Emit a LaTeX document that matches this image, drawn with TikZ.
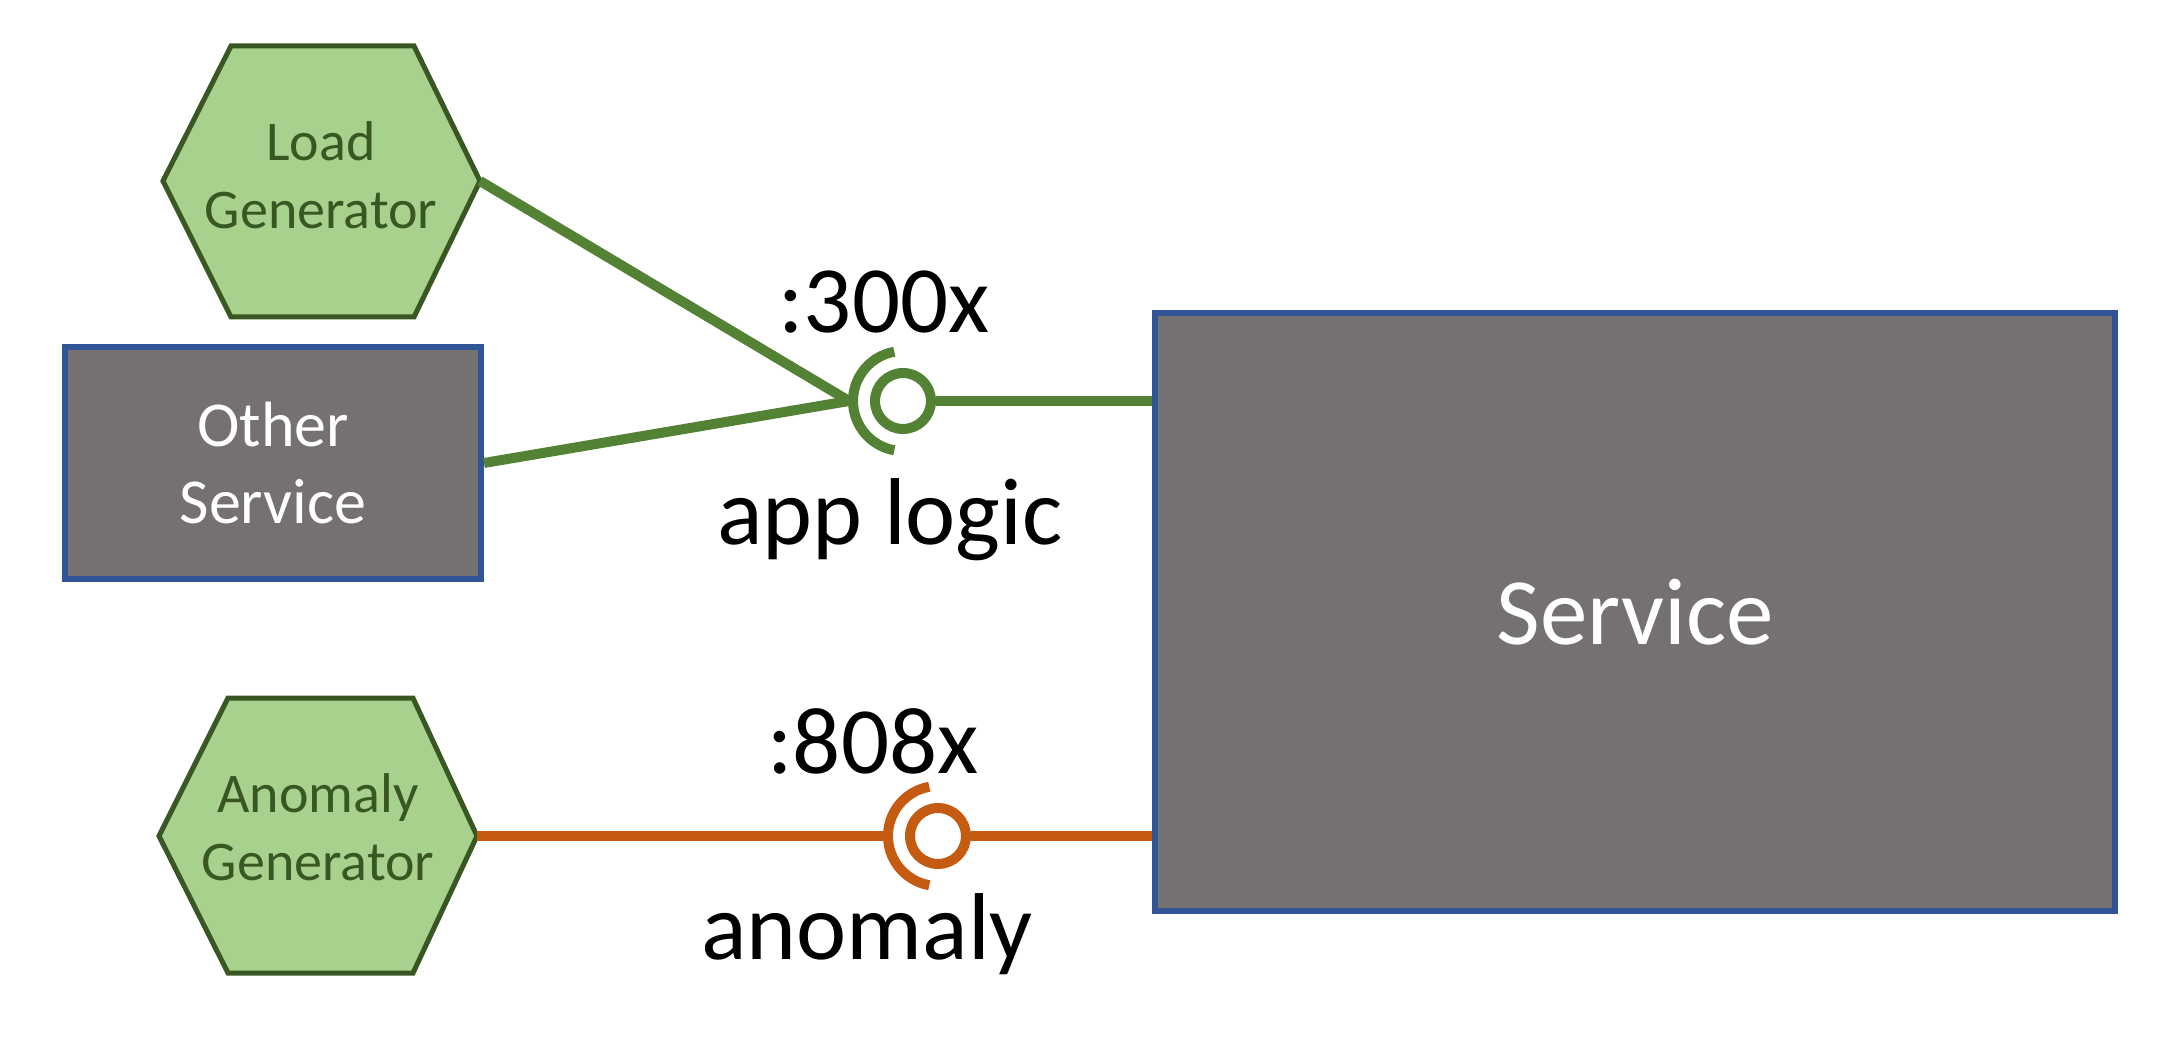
\documentclass[tikz,border=0pt]{standalone}
\usepackage{fontspec}
\setmainfont{Carlito}
\usetikzlibrary{calc}
\definecolor{hexfill}{HTML}{A9D18E}
\definecolor{hexdraw}{HTML}{385723}
\definecolor{linkgreen}{HTML}{548235}
\definecolor{linkorange}{HTML}{C55A11}
\definecolor{svcgray}{HTML}{767171}
\definecolor{svcblue}{HTML}{2F5597}
\begin{document}
\begin{tikzpicture}[x=0.5pt,y=-0.5pt,
  hexshape/.style={draw=hexdraw, fill=hexfill, line width=2.5pt, line join=miter},
  hextext/.style={text=hexdraw, font=\fontsize{28}{34}\selectfont, align=center, inner sep=0pt},
  svcbox/.style={draw=svcblue, fill=svcgray, line width=3pt, text=white, inner sep=0pt},
  link/.style={line width=5pt},
  sockarc/.style={line width=5pt},
  ball/.style={circle, fill=white, line width=5pt, minimum size=28pt, inner sep=0pt},
  lbl/.style={font=\fontsize{47.5}{57}\selectfont, anchor=base, inner sep=0pt}]
\useasboundingbox (0,0) rectangle (2180,1064);

% Load Generator hexagon
\draw[hexshape] (163,181) -- (231,46) -- (414,46) -- (480,181) -- (414,317) -- (231,317) -- cycle;
\coordinate (lgR) at (480,181);
\node[hextext] (lgt) at (321,175) {Load\\Generator};

% Anomaly Generator hexagon
\draw[hexshape] (159,836) -- (228,698) -- (413,698) -- (477,836) -- (413,973) -- (228,973) -- cycle;
\coordinate (agR) at (477,836);
\node[hextext] (agt) at (318,827) {Anomaly\\Generator};

% Other Service
\node[svcbox, minimum width=208pt, minimum height=116pt, font=\fontsize{32}{38.5}\selectfont, align=center] (oth) at (273,463) {Other\\Service};

% Service
\node[svcbox, minimum width=480pt, minimum height=299pt, font=\fontsize{47.5}{57}\selectfont] (svc) at (1635,612) {Service};

% app logic interface
\node[ball, draw=linkgreen] (b1) at (903,401) {};
\draw[sockarc, linkgreen] ($(b1.center)+(100:25pt)$) arc[start angle=100, end angle=260, radius=25pt];
\coordinate (j1) at ($(b1.center)+(180:27pt)$);
\draw[link, linkgreen] (lgR) -- (j1);
\draw[link, linkgreen] (oth.east) -- (j1);
\draw[link, linkgreen] (b1.east) -- (b1.east -| svc.west);
\node[lbl] (l300) at (884,333) {:300x};
\node[lbl] (lapp) at (890,544) {app logic};

% anomaly interface
\node[ball, draw=linkorange] (b2) at (938,836) {};
\draw[sockarc, linkorange] ($(b2.center)+(100:25pt)$) arc[start angle=100, end angle=260, radius=25pt];
\coordinate (j2) at ($(b2.center)+(180:27pt)$);
\draw[link, linkorange] (agR) -- (j2);
\draw[link, linkorange] (b2.east) -- (b2.east -| svc.west);
\node[lbl] (l808) at (873,773) {:808x};
\node[lbl] (lano) at (867,959) {anomaly};
\end{tikzpicture}
\end{document}
